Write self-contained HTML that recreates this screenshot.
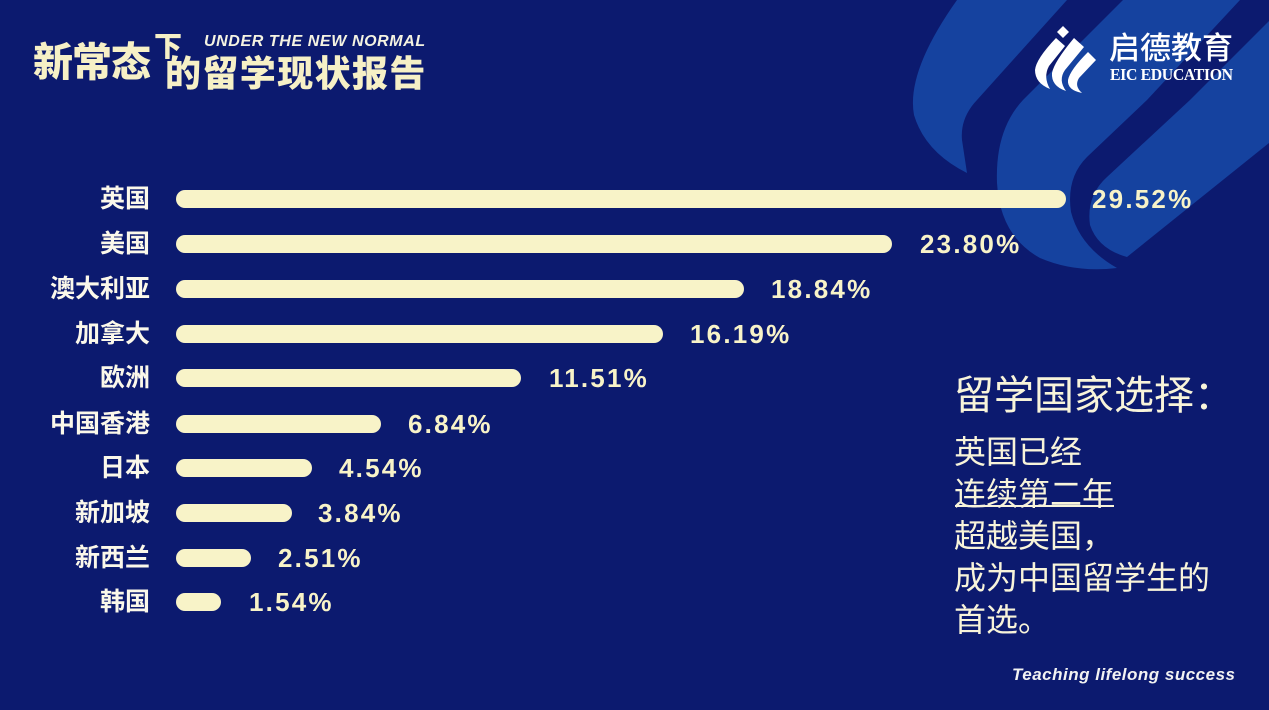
<!DOCTYPE html>
<html><head><meta charset="utf-8">
<style>
html,body{margin:0;padding:0}
body{width:1269px;height:710px;overflow:hidden;background:#0c1a6f;position:relative;font-family:"Liberation Sans","Noto Sans CJK SC",sans-serif}
.t{position:absolute;white-space:nowrap;line-height:1}
.lab{position:absolute;right:1119px;font-size:25px;font-weight:700;color:#fbf8ea;line-height:1;white-space:nowrap;font-family:"Liberation Sans","Noto Sans CJK SC",sans-serif}
.bar{position:absolute;left:176px;height:18px;border-radius:9px;background:#f8f3c8}
.pct{position:absolute;font-size:26px;font-weight:700;color:#f8f3c8;letter-spacing:2.2px;line-height:1;white-space:nowrap;font-family:"Liberation Sans",sans-serif}
</style></head><body>
<svg style="position:absolute;left:0;top:0" width="1269" height="710" viewBox="0 0 1269 710">
  <g fill="#15429f">
    <path d="M957,0 L1067,0 L977,100 Q960,118 962,140 L967,173 Q925,152 914,115 Q906,72 957,0 Z"/>
    <path d="M1123,0 L1240,0 L1147,100 L1087,157 Q1066,178 1071,212 Q1080,247 1117,268 Q1075,273 1040,258 Q1000,236 997,183 Q995,130 1023,100 Z"/>
    <path d="M1269,21 L1190,100 L1107,177 Q1086,196 1090,225 Q1098,249 1127,257 L1269,143 Z"/>
  </g>
  <!-- logo icon -->
  <g fill="#ffffff">
    <polygon points="1063,26 1069,32 1063,38 1057,32"/>
    <path d="M1056,38 L1065,46 L1049,66 Q1043,77 1050,89 Q1035,83 1035,70 Q1036,59 1056,38 Z"/>
    <path d="M1074,38 L1084,47 L1065,70 Q1058,80 1066,91 Q1051,86 1052,73 Q1054,62 1074,38 Z"/>
    <path d="M1088,52 L1096,60 L1079,78 Q1074,86 1082,93 Q1067,90 1068,80 Q1070,70 1088,52 Z"/>
  </g>
</svg>

<!-- title -->
<div class="t" style="left:204px;top:33.5px;font-size:16px;font-weight:700;font-style:italic;letter-spacing:0.6px;color:#f5f3e2;font-family:'Liberation Sans',sans-serif">UNDER THE NEW NORMAL</div>
<div class="t" style="left:33px;top:43px;font-size:40px;font-weight:900;letter-spacing:-1px;color:#f6f0c6;font-family:'Liberation Sans','Noto Sans CJK SC',sans-serif">新常态</div>
<div class="t" style="left:154px;top:33px;font-size:28px;font-weight:900;color:#f6f0c6;font-family:'Liberation Sans','Noto Sans CJK SC',sans-serif">下</div>
<div class="t" style="left:165px;top:56px;font-size:36px;font-weight:900;letter-spacing:1.4px;color:#f6f0c6;font-family:'Liberation Sans','Noto Sans CJK SC',sans-serif">的留学现状报告</div>

<!-- logo text -->
<div class="t" style="left:1109px;top:33px;font-size:31px;font-weight:500;color:#ffffff;font-family:'Liberation Sans','Noto Sans CJK SC',sans-serif">启德教育</div>
<div class="t" style="left:1110px;top:65.8px;font-size:17px;font-weight:700;letter-spacing:-0.4px;color:#ffffff;font-family:'Liberation Serif',serif;transform:scaleX(0.93);transform-origin:0 0">EIC EDUCATION</div>

<!-- bars -->
<div class="lab" style="top:187.3px">英国</div>
<div class="bar" style="top:190px;width:890px"></div>
<div class="pct" style="left:1092px;top:186.3px">29.52%</div>

<div class="lab" style="top:232.3px">美国</div>
<div class="bar" style="top:235px;width:716px"></div>
<div class="pct" style="left:920px;top:231.3px">23.80%</div>

<div class="lab" style="top:277.3px">澳大利亚</div>
<div class="bar" style="top:280px;width:568px"></div>
<div class="pct" style="left:771px;top:276.3px">18.84%</div>

<div class="lab" style="top:322.3px">加拿大</div>
<div class="bar" style="top:325px;width:487px"></div>
<div class="pct" style="left:690px;top:321.3px">16.19%</div>

<div class="lab" style="top:366.3px">欧洲</div>
<div class="bar" style="top:369px;width:345px"></div>
<div class="pct" style="left:549px;top:365.3px">11.51%</div>

<div class="lab" style="top:412.3px">中国香港</div>
<div class="bar" style="top:415px;width:205px"></div>
<div class="pct" style="left:408px;top:411.3px">6.84%</div>

<div class="lab" style="top:456.3px">日本</div>
<div class="bar" style="top:459px;width:136px"></div>
<div class="pct" style="left:339px;top:455.3px">4.54%</div>

<div class="lab" style="top:501.3px">新加坡</div>
<div class="bar" style="top:504px;width:116px"></div>
<div class="pct" style="left:318px;top:500.3px">3.84%</div>

<div class="lab" style="top:546.3px">新西兰</div>
<div class="bar" style="top:549px;width:75px"></div>
<div class="pct" style="left:278px;top:545.3px">2.51%</div>

<div class="lab" style="top:590.3px">韩国</div>
<div class="bar" style="top:593px;width:45px"></div>
<div class="pct" style="left:249px;top:589.3px">1.54%</div>

<!-- right panel -->
<div class="t" style="left:954px;top:376.4px;font-size:40px;color:#f8f4da;font-family:'Liberation Sans','Noto Sans CJK SC',sans-serif">留学国家选择：</div>
<div style="position:absolute;left:954px;top:431px;font-size:32px;line-height:42px;color:#f8f4da;white-space:nowrap;font-family:'Liberation Sans','Noto Sans CJK SC',sans-serif">英国已经<br>连续第二年<br>超越美国，<br>成为中国留学生的<br>首选。</div>
<div style="position:absolute;left:955px;top:505px;width:159px;height:2px;background:#f8f4da"></div>

<div class="t" style="left:1012px;top:665.6px;font-size:17px;font-weight:700;font-style:italic;letter-spacing:0.5px;color:#f2f2f2;font-family:'Liberation Sans',sans-serif">Teaching lifelong success</div>
</body></html>
